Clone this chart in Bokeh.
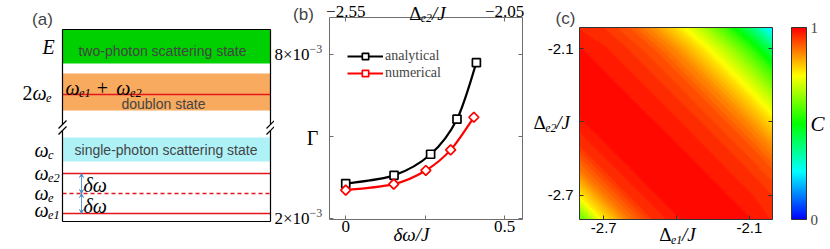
import numpy as np
from bokeh.plotting import figure
from bokeh.layouts import row
from bokeh.models import (Range1d, Label, Arrow, VeeHead, LinearAxis, FixedTicker,
                          ColorBar, LinearColorMapper, CustomJSTickFormatter,
                          Legend, LegendItem)
from bokeh.embed import file_html
from bokeh.resources import INLINE

# ---------------- data ----------------
# panel (a): schematic energy diagram (schematic energy units)
band_names = ["two-photon scattering state", "doublon state", "single-photon scattering state"]
band_lo = [178, 131, 80]
band_hi = [212, 168, 104]
band_colors = ["#00d000", "#f8aa5e", "#aef2f8"]
level_energy = [147, 68, 48, 28]          # ωe1+ωe2, ωe2, ωe, ωe1
level_dash = ["solid", "solid", "4 3", "solid"]
frame_lo, frame_hi, break_lo, break_hi = 20, 212, 111, 117
box_x = [54, 262]

# panel (b)
dw_analytical = [0.0, 0.152, 0.267, 0.350, 0.411]
gamma_analytical = [3.29, 3.59, 4.36, 5.64, 7.70]   # ×1e-3
dw_numerical = [0.0, 0.151, 0.252, 0.330, 0.403]
gamma_numerical = [3.05, 3.27, 3.77, 4.52, 5.71]    # ×1e-3
b_xlim = [-0.051, 0.556]
b_ylim = [1.98, 9.35]
b_xticks = [0, 0.5]
b_xminor = [0.25]
b_top_offset = -2.55          # Δe2/J = δω/J − 2.55
b_top_ticks = [-2.55, -2.05]
b_yticks = [2, 8]
b_yminor = [5]

# panel (c)
delta_e1 = [-2.8, -2.7, -2.6, -2.5, -2.4, -2.3, -2.2, -2.1, -2.005]
delta_e2 = [-2.8, -2.7, -2.6, -2.5, -2.4, -2.3, -2.2, -2.1, -2.014]
C_grid = [  # rows: delta_e2, cols: delta_e1
    [0.58, 0.77, 0.88, 0.95, 0.98, 1.00, 1.00, 0.985, 0.965],
    [0.77, 0.88, 0.95, 0.98, 1.00, 1.00, 0.985, 0.97, 0.95],
    [0.88, 0.95, 0.98, 1.00, 1.00, 0.985, 0.97, 0.95, 0.92],
    [0.95, 0.98, 1.00, 1.00, 0.985, 0.97, 0.95, 0.92, 0.86],
    [0.98, 1.00, 1.00, 0.985, 0.97, 0.95, 0.92, 0.86, 0.78],
    [1.00, 1.00, 0.985, 0.97, 0.95, 0.92, 0.86, 0.78, 0.68],
    [1.00, 0.985, 0.97, 0.95, 0.92, 0.86, 0.78, 0.68, 0.56],
    [0.985, 0.97, 0.95, 0.92, 0.86, 0.78, 0.68, 0.56, 0.40],
    [0.965, 0.95, 0.92, 0.86, 0.78, 0.68, 0.56, 0.40, 0.22],
]
c_ticks = [-2.7, -2.1]
c_minor = [-2.4]
cbar_ticks = [0, 1]
cbar_minor = [0.5]

# ---------------- helpers ----------------
SERIF = "Liberation Serif"
SANS = "Liberation Sans"
EM = {'ω': .68, 'δ': .5, 'Δ': .61, 'Γ': .6, 'e': .444, '1': .5, '2': .5, 'c': .444,
      'E': .611, 'J': .444, '/': .278, '+': .675, ' ': .3, 'C': .667, '−': .564, '3': .5}


def mtext(p, x, y, parts, size=19, align="left"):
    """parts: list of (text, is_subscript, italic); spaces become gaps"""
    items = []
    for t, sub, it in parts:
        fs = size * 0.62 if sub else size
        lead = len(t) - len(t.lstrip(" "))
        trail = len(t) - len(t.rstrip(" "))
        core = t.strip(" ")
        w = sum(EM.get(ch, .5) for ch in core) * fs
        items.append((core, sub, it, fs, lead * EM[' '] * fs, w, trail * EM[' '] * fs))
    total = sum(a + b + c for *_, a, b, c in items)
    off = 0 if align == "left" else (-total / 2 if align == "center" else -total)
    for core, sub, it, fs, lw, w, tw in items:
        off += lw
        p.add_layout(Label(x=x, y=y, x_offset=off, y_offset=(-size * 0.28 if sub else 0),
                           text=core, text_font=SERIF,
                           text_font_style="italic" if it else "normal",
                           text_font_size=f"{fs:.1f}px", text_baseline="middle",
                           text_align="left", text_color="black"))
        off += w + tw


def rainbow(v):
    stops = [(0.0, (0, 0, 255)), (0.25, (0, 255, 255)), (0.5, (0, 255, 0)),
             (0.75, (255, 255, 0)), (1.0, (255, 0, 0))]
    v = min(max(v, 0.0), 1.0)
    for (a, ca), (b, cb) in zip(stops[:-1], stops[1:]):
        if v <= b:
            t = (v - a) / (b - a)
            c = [round(ca[k] + (cb[k] - ca[k]) * t) for k in range(3)]
            return "#%02x%02x%02x" % tuple(c)
    return "#ff0000"


def full_range(lo, hi, pad_lo, pad_hi, box_px):
    """data range of the whole canvas, given the box limits and pixel paddings"""
    s = box_px / (hi - lo)
    return Range1d(lo - pad_lo / s, hi + pad_hi / s)


def smooth_segments(xs, ys):
    """Catmull-Rom control points so the line through the markers is drawn as a smooth curve"""
    n = len(xs)
    out = {k: [] for k in ("x0", "y0", "x1", "y1", "cx0", "cy0", "cx1", "cy1")}
    for i in range(n - 1):
        a = max(i - 1, 0)
        d = min(i + 2, n - 1)
        out["x0"].append(xs[i]); out["y0"].append(ys[i])
        out["x1"].append(xs[i + 1]); out["y1"].append(ys[i + 1])
        out["cx0"].append(xs[i] + (xs[i + 1] - xs[a]) / 6)
        out["cy0"].append(ys[i] + (ys[i + 1] - ys[a]) / 6)
        out["cx1"].append(xs[i + 1] - (xs[d] - xs[i]) / 6)
        out["cy1"].append(ys[i + 1] - (ys[d] - ys[i]) / 6)
    return out


def style_axis(ax, ticks, minor, color, font, size, standoff=3, fmt=None):
    ax.ticker = FixedTicker(ticks=ticks, minor_ticks=minor)
    ax.axis_line_color = color
    ax.axis_line_width = 1
    ax.major_tick_in = 4
    ax.major_tick_out = 0
    ax.minor_tick_in = 4
    ax.minor_tick_out = 0
    ax.major_tick_line_color = color
    ax.minor_tick_line_color = color
    ax.major_label_text_font = font
    ax.major_label_text_font_size = size
    ax.major_label_standoff = standoff
    ax.major_label_text_color = "black"
    if fmt is not None:
        ax.formatter = CustomJSTickFormatter(code=fmt)


H = 249  # the page has no margin: the row fills the whole window

# ---------------- panel (a) ----------------
pa = figure(width=274, height=H, x_range=Range1d(-8, 266), y_range=Range1d(-8, 241),
            min_border=0, x_axis_location=None, y_axis_location=None, title=None,
            toolbar_location=None, tools="", output_backend="svg",
            outline_line_color=None)
pa.grid.visible = False

pa.quad(left=[box_x[0]] * 3, right=[box_x[1]] * 3, bottom=band_lo, top=band_hi,
        fill_color=band_colors, line_color=None)
for e, d in zip(level_energy, level_dash):
    pa.line(box_x, [e, e], line_color="#e8141c", line_width=1.3, line_dash=d)

bx0, bx1 = box_x
pa.segment(x0=[bx0, bx0, bx1, bx1, bx0, bx0],
           y0=[frame_hi, break_lo, frame_hi, break_lo, frame_hi, frame_lo],
           x1=[bx0, bx0, bx1, bx1, bx1, bx1],
           y1=[break_hi, frame_lo, break_hi, frame_lo, frame_hi, frame_lo],
           line_color="black", line_width=1.2)
sx0, sy0, sx1, sy1 = [], [], [], []
for xs in box_x:
    for yb in (break_lo, break_hi):
        sx0.append(xs - 4); sy0.append(yb - 4); sx1.append(xs + 4); sy1.append(yb + 4)
pa.segment(x0=sx0, y0=sy0, x1=sx1, y1=sy1, line_color="black", line_width=1.2)

for ya, yb in ((level_energy[2], level_energy[1]), (level_energy[2], level_energy[3])):
    pa.add_layout(Arrow(start=VeeHead(size=4, line_color="#5b9bd5", line_width=1),
                        end=VeeHead(size=4, line_color="#5b9bd5", line_width=1),
                        x_start=73, y_start=ya, x_end=73, y_end=yb,
                        line_color="#5b9bd5", line_width=1))

for name, xc, yc in zip(band_names, [154, 155, 157.5], [191, 138, 92]):
    pa.add_layout(Label(x=xc, y=yc, text=name, text_font=SANS, text_font_size="14px",
                        text_align="center", text_baseline="middle"))

pa.add_layout(Label(x=34, y=222, text="(a)", text_font=SANS, text_font_size="17px",
                    text_align="center", text_baseline="middle"))
mtext(pa, 34, 195, [("E", False, True)], size=20)
mtext(pa, 14, 149, [("2", False, False), ("ω", False, True), ("e", True, True)], size=20)
mtext(pa, 26, 92, [("ω", False, True), ("c", True, True)], size=20)
mtext(pa, 26, 69, [("ω", False, True), ("e2", True, True)], size=20)
mtext(pa, 26, 49, [("ω", False, True), ("e", True, True)], size=20)
mtext(pa, 26, 32, [("ω", False, True), ("e1", True, True)], size=20)
mtext(pa, 57, 154, [("ω", False, True), ("e1", True, True), (" + ", False, False),
                    ("ω", False, True), ("e2", True, True)], size=20)
mtext(pa, 75, 57, [("δω", False, True)], size=20)
mtext(pa, 75, 36, [("δω", False, True)], size=20)

# ---------------- panel (b) ----------------
GRAY = "#6e6e6e"
bxr = full_range(b_xlim[0], b_xlim[1], 55, 8, 193)
byr = full_range(b_ylim[0], b_ylim[1], 30, 17, 202)
pb = figure(width=256, height=H, x_range=bxr, y_range=byr, min_border=0, title=None,
            toolbar_location=None, tools="", output_backend="svg", outline_line_color=None)
pb.grid.visible = False
pb.extra_x_ranges = {"de2": Range1d(bxr.start + b_top_offset, bxr.end + b_top_offset)}

xb = pb.xaxis[0]
style_axis(xb, b_xticks, b_xminor, GRAY, SERIF, "17px", standoff=1,
           fmt="return tick == 0 ? '0' : tick.toString()")
xb.fixed_location = b_ylim[0]
xb.bounds = tuple(b_xlim)
yb_ = pb.yaxis[0]
style_axis(yb_, b_yticks, b_yminor, GRAY, SERIF, "17px", standoff=20,
           fmt="return tick.toFixed(0) + '\u00d710'")
yb_.fixed_location = b_xlim[0]
yb_.bounds = tuple(b_ylim)
top_b = LinearAxis(x_range_name="de2")
style_axis(top_b, b_top_ticks, [], GRAY, SERIF, "17px", standoff=1,
           fmt="return '\u2212' + Math.abs(tick).toFixed(2)")
top_b.fixed_location = b_ylim[1]
top_b.bounds = (b_xlim[0] + b_top_offset, b_xlim[1] + b_top_offset)
pb.add_layout(top_b, "above")
right_b = LinearAxis()
style_axis(right_b, [], b_yticks + b_yminor, GRAY, SERIF, "17px")
right_b.fixed_location = b_xlim[1]
right_b.bounds = tuple(b_ylim)
pb.add_layout(right_b, "right")

for yt in b_yticks:
    pb.add_layout(Label(x=b_xlim[0], y=yt, x_offset=-20, y_offset=6, text="−3",
                        text_font=SERIF, text_font_size="12px", text_align="left",
                        text_baseline="middle"))

items = []
for name, xs_, ys_, col, mk, ang, sz in (
        ("analytical", dw_analytical, gamma_analytical, "black", "square", 0.0, 8),
        ("numerical", dw_numerical, gamma_numerical, "#ff0000", "square", np.pi / 4, 7)):
    rc = pb.bezier(**smooth_segments(xs_, ys_), line_color=col, line_width=2.2)
    rm = pb.scatter(xs_, ys_, marker=mk, angle=ang, size=sz, line_color=col,
                    line_width=1.7, fill_color="white")
    items.append(LegendItem(label=name, renderers=[rc, rm]))

lg = Legend(items=items, location=(73, 168), padding=0, margin=0, spacing=1,
            glyph_width=36, glyph_height=16, label_height=16, label_standoff=2,
            label_text_font=SERIF, label_text_font_size="14px",
            border_line_color=None, background_fill_alpha=0)
pb.add_layout(lg, "center")

pb.add_layout(Label(x=-0.133, y=9.46, text="(b)", text_font=SANS, text_font_size="17px",
                    text_align="center", text_baseline="middle"))
mtext(pb, 0.257, 9.51, [("Δ", False, False), ("e2", True, True), ("/J", False, True)],
      size=19, align="center")
mtext(pb, -0.104, 4.97, [("Γ", False, False)], size=20, align="center")
mtext(pb, 0.207, 1.44, [("δω/J", False, True)], size=19, align="center")

# ---------------- panel (c) ----------------
DARK = "#333333"
cx0, cx1 = delta_e1[0], delta_e1[-1]
cy0, cy1 = delta_e2[0], delta_e2[-1]
pc = figure(width=300, height=H, x_range=full_range(cx0, cx1, 49, 58, 193),
            y_range=full_range(cy0, cy1, 30, 27, 192), min_border=0, title=None,
            toolbar_location=None, tools="", output_backend="svg", outline_line_color=None)
pc.grid.visible = False

levels = list(np.linspace(0, 1, 61))
levels[-1] = 1.0005
fill_cols = [rainbow((a + b) / 2) for a, b in zip(levels[:-1], levels[1:])]
line_cols = [rainbow(l) for l in levels]
pc.contour(np.array(delta_e1), np.array(delta_e2), np.array(C_grid), levels,
           fill_color=fill_cols, line_color=line_cols, line_width=1.2)

xc_ = pc.xaxis[0]
style_axis(xc_, c_ticks, c_minor, DARK, SANS, "15px", standoff=3, fmt="return tick.toFixed(1)")
xc_.fixed_location = cy0
xc_.bounds = (cx0, cx1)
yc_ = pc.yaxis[0]
style_axis(yc_, c_ticks, c_minor, DARK, SANS, "15px", standoff=6, fmt="return tick.toFixed(1)")
yc_.fixed_location = cx0
yc_.bounds = (cy0, cy1)
right_c = LinearAxis()
style_axis(right_c, [], c_ticks + c_minor, DARK, SANS, "15px")
right_c.fixed_location = cx1
right_c.bounds = (cy0, cy1)
pc.add_layout(right_c, "right")
top_c = LinearAxis()
style_axis(top_c, [], [], DARK, SANS, "15px")
top_c.fixed_location = cy1
top_c.bounds = (cx0, cx1)
pc.add_layout(top_c, "above")

mapper = LinearColorMapper(palette=[rainbow(i / 255) for i in range(256)], low=0, high=1)
cb = ColorBar(color_mapper=mapper, location=(261, 30), width=15, height=192,
              padding=0, margin=0, ticker=FixedTicker(ticks=cbar_ticks, minor_ticks=cbar_minor),
              major_label_text_font=SERIF, major_label_text_font_size="15px",
              major_tick_line_color=DARK, major_tick_in=3, minor_tick_line_color=DARK,
              bar_line_color=DARK, border_line_color=None, background_fill_alpha=0,
              label_standoff=4)
pc.add_layout(cb, "center")

pc.add_layout(Label(x=-2.858, y=-1.977, text="(c)", text_font=SANS, text_font_size="17px",
                    text_align="center", text_baseline="middle"))
mtext(pc, -2.989, -2.403, [("Δ", False, False), ("e2", True, True), ("/J", False, True)], size=19)
mtext(pc, -2.396, -2.862, [("Δ", False, False), ("e1", True, True), ("/J", False, True)],
      size=19, align="center")
mtext(pc, -1.82, -2.407, [("C", False, True)], size=21, align="center")

layout = row(pa, pb, pc, spacing=0)
open("out.html", "w").write(file_html(layout, INLINE))
